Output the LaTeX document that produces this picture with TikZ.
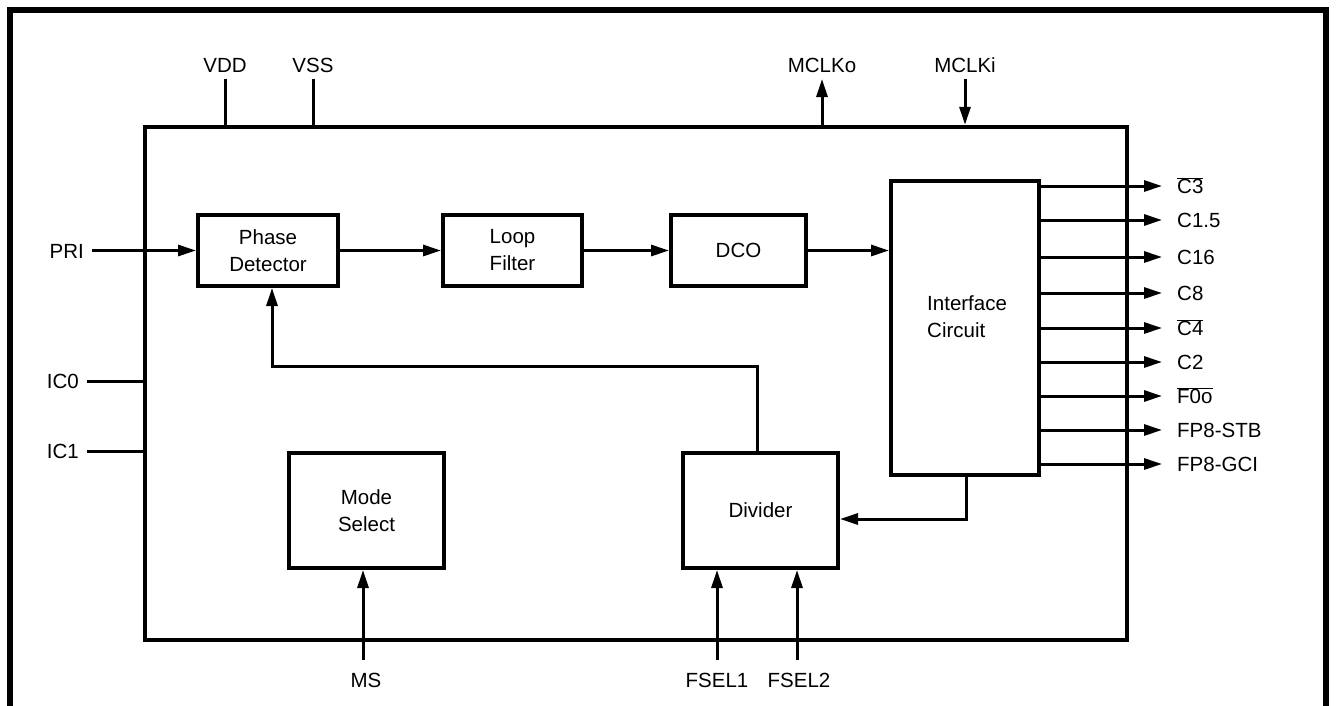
\documentclass[tikz,border=0pt]{standalone}
\usepackage{fontspec}
\setmainfont{Liberation Sans}
\usetikzlibrary{arrows.meta}
\newcommand\fsz{\fontsize{20.5}{27}\selectfont}
\begin{document}
\begin{tikzpicture}[x=1pt,y=-1pt,
  blk/.style={draw, line width=4pt, inner sep=0pt, align=center, font=\fsz},
  wire/.style={line width=3pt},
  arr/.style={wire, -{Triangle[length=18pt,width=11pt]}},
  lbl/.style={inner sep=0pt, font=\fsz},
  frame/.style={line width=5.5pt}]
\useasboundingbox (0,0) rectangle (1336,705);
% outer frame (open at the bottom)
\draw[frame] (10,720) -- (10,10) -- (1326,10) -- (1326,720);
% main box
\node[draw, line width=4.5pt, inner sep=0pt, minimum width=982pt, minimum height=513pt] (main) at (636,383.5) {};
% blocks
\node[blk, minimum width=140pt, minimum height=71pt] (pd) at (268,250.5) {Phase\\Detector};
\node[blk, minimum width=139pt, minimum height=71pt] (lf) at (512.5,250.5) {Loop\\Filter};
\node[blk, minimum width=135pt, minimum height=71pt] (dco) at (738.5,250.5) {DCO};
\node[blk, minimum width=148pt, minimum height=294pt] (ic) at (965,327.5) {};
\node[lbl, align=left, anchor=west] (ictext) at (927,317) {Interface\\Circuit};
\node[blk, minimum width=155pt, minimum height=115pt] (ms) at (366.5,510.5) {Mode\\Select};
\node[blk, minimum width=155pt, minimum height=115pt] (div) at (760.5,510.5) {Divider};
% top pins
\node[lbl, anchor=base] (vdd) at (225,72) {VDD};
\node[lbl, anchor=base] (vss) at (313,72) {VSS};
\node[lbl, anchor=base] (mclko) at (822,72) {MCLKo};
\node[lbl, anchor=base] (mclki) at (965,72) {MCLKi};
\coordinate (vddE) at (225,79);
\coordinate (vssE) at (313,79);
\coordinate (mcoE) at (822,79);
\coordinate (mciE) at (965,79);
\draw[wire] (vddE) -- (vddE |- main.north);
\draw[wire] (vssE) -- (vssE |- main.north);
\draw[arr] (mcoE |- main.north) -- (mcoE);
\draw[arr] (mciE) -- (mciE |- main.north);
% left pins
\node[lbl, anchor=base east] (pri) at (84,258) {PRI};
\node[lbl, anchor=base east] (ic0) at (79,388) {IC0};
\node[lbl, anchor=base east] (ic1) at (79,458) {IC1};
\coordinate (priE) at (92,250.5);
\coordinate (ic0E) at (87,381);
\coordinate (ic1E) at (87,451);
\draw[arr] (priE) -- (pd.west);
\draw[wire] (ic0E) -- (ic0E -| main.west);
\draw[wire] (ic1E) -- (ic1E -| main.west);
% chain
\draw[arr] (pd.east) -- (lf.west);
\draw[arr] (lf.east) -- (dco.west);
\draw[arr] (dco.east) -- (dco.east -| ic.west);
% feedback
\coordinate (fbx) at (757,366);
\coordinate (fbl) at (272,366);
\draw[arr] (fbx |- div.north) -- (fbx) -- (fbl) -- (fbl |- pd.south);
% interface -> divider
\coordinate (icb) at (966,519);
\draw[arr] (icb |- ic.south) -- (icb) -- (icb -| div.east);
% bottom pins
\node[lbl, anchor=base] (msl) at (366,687) {MS};
\node[lbl, anchor=base] (fs1) at (717,687) {FSEL1};
\node[lbl, anchor=base] (fs2) at (799,687) {FSEL2};
\coordinate (msE) at (363,660);
\coordinate (fs1E) at (717,660);
\coordinate (fs2E) at (797,660);
\draw[arr] (msE) -- (msE |- ms.south);
\draw[arr] (fs1E) -- (fs1E |- div.south);
\draw[arr] (fs2E) -- (fs2E |- div.south);
% outputs
\foreach \n/\y/\t in {o1/186/{$\overline{\mbox{C3}}$}, o2/220/{C1.5}, o3/257/{C16},
  o4/293/{C8}, o5/328/{$\overline{\mbox{C4}}$}, o6/362/{C2},
  o7/396/{$\overline{\mbox{F0o}}$}, o8/430/{FP8-STB}, o9/464/{FP8-GCI}} {
  \node[lbl, anchor=base west] (\n) at (1177,\y+7.5) {\t};
  \coordinate (\n s) at (ic.east |- 0,\y);
  \draw[arr] (\n s) -- ([xshift=-15pt]\n.west |- 0,\y);
}
\end{tikzpicture}
\end{document}
